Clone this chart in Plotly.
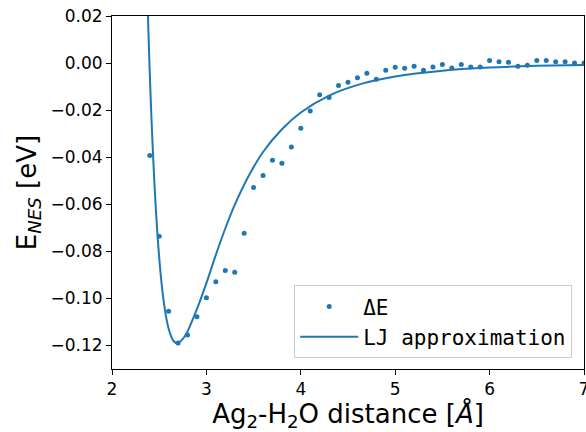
import plotly.graph_objects as go

# Data points (ΔE)
dist = [2.4, 2.5, 2.6, 2.7, 2.8, 2.9, 3.0, 3.1, 3.2, 3.3, 3.4, 3.5, 3.6, 3.7, 3.8, 3.9,
        4.0, 4.1, 4.2, 4.3, 4.4, 4.5, 4.6, 4.7, 4.8, 4.9, 5.0, 5.1, 5.2, 5.3, 5.4, 5.5,
        5.6, 5.7, 5.8, 5.9, 6.0, 6.1, 6.2, 6.3, 6.4, 6.5, 6.6, 6.7, 6.8, 6.9, 7.0]
delta_e = [-0.0393, -0.0736, -0.1055, -0.1190, -0.1155, -0.1078, -0.0997, -0.0929,
           -0.0881, -0.0889, -0.0723, -0.0529, -0.0478, -0.0413, -0.0426, -0.0357,
           -0.0277, -0.0204, -0.0135, -0.0146, -0.0095, -0.0082, -0.0062, -0.0043,
           -0.0069, -0.0030, -0.0018, -0.0022, -0.0013, -0.0030, -0.0017, -0.0006,
           -0.0021, -0.0006, -0.0017, -0.0017, 0.0011, 0.0006, 0.0003, -0.0014,
           -0.0009, 0.0011, 0.0011, 0.0006, 0.0006, 0.0000, 0.0000]

# LJ approximation curve
lj_x = [2.37, 2.38, 2.40, 2.42, 2.45, 2.48, 2.52, 2.56, 2.60, 2.65, 2.69, 2.75, 2.80,
        2.90, 3.00, 3.10, 3.20, 3.30, 3.45, 3.60, 3.80, 4.00, 4.30, 4.65, 5.00, 5.50,
        6.00, 6.50, 7.00]
lj_y = [0.0351, 0.0212, -0.0041, -0.0255, -0.0517, -0.0720, -0.0916, -0.1047, -0.1129,
        -0.1180, -0.1190, -0.1172, -0.1140, -0.1045, -0.0935, -0.0815, -0.0703, -0.0603,
        -0.0478, -0.0378, -0.0281, -0.0210, -0.0138, -0.00875, -0.0057, -0.00324,
        -0.00192, -0.00119, -0.00077]

x_ticks = [2, 3, 4, 5, 6, 7]
y_ticks = [-0.12, -0.10, -0.08, -0.06, -0.04, -0.02, 0.00, 0.02]

blue = "#1f77b4"

fig = go.Figure()
fig.add_trace(go.Scatter(
    x=dist, y=delta_e, mode="markers", name="ΔE",
    marker=dict(color=blue, size=5),
))
fig.add_trace(go.Scatter(
    x=lj_x, y=lj_y, mode="lines", name="LJ approximation",
    line=dict(color=blue, width=2, shape="spline", smoothing=0.8),
))

axis_common = dict(
    showline=True, linecolor="black", linewidth=1, mirror=True,
    ticks="outside", ticklen=5, tickwidth=1, tickcolor="black",
    showgrid=False, zeroline=False,
    tickfont=dict(family="DejaVu Sans", size=17, color="black"),
    ticklabeloverflow="allow",
)

fig.update_xaxes(
    range=[2, 7], tickvals=x_ticks, ticktext=[str(v) for v in x_ticks],
    title=dict(text="Ag<sub>2</sub>-H<sub>2</sub>O distance [<i>Å</i>]",
               font=dict(family="DejaVu Sans", size=26, color="black"), standoff=11),
    **axis_common,
)
fig.update_yaxes(
    range=[-0.13, 0.02], tickvals=y_ticks, tickformat=".2f",
    title=dict(text="E<sub><i>NES</i></sub> [eV]",
               font=dict(family="DejaVu Sans", size=26, color="black"), standoff=6),
    **axis_common,
)

fig.update_layout(
    width=586, height=432,
    margin=dict(l=112, r=2, t=16, b=63, autoexpand=False),
    plot_bgcolor="white", paper_bgcolor="white",
    showlegend=True,
    legend=dict(
        x=0.975, y=0.03, xanchor="right", yanchor="bottom",
        bgcolor="rgba(255,255,255,0.8)", bordercolor="#cccccc", borderwidth=1,
        font=dict(family="DejaVu Sans Mono", size=21, color="black"),
        itemwidth=58,
    ),
)

fig.write_html("out.html")
